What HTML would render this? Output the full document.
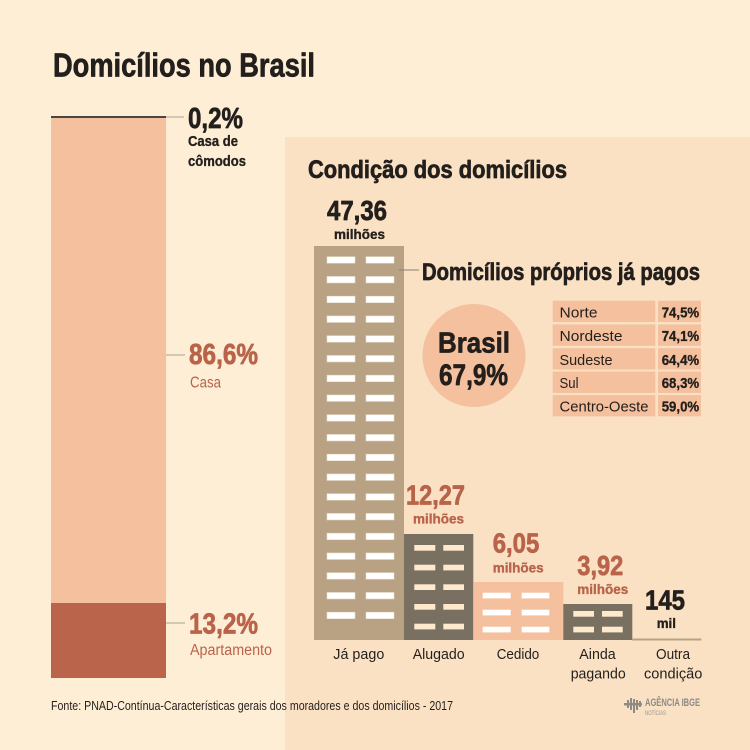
<!DOCTYPE html>
<html><head><meta charset="utf-8"><style>
html,body{margin:0;padding:0;background:#feeed6;}
svg{display:block;}
text{font-family:"Liberation Sans",Arial,sans-serif;}
.b{font-weight:bold;}
.h{stroke-width:0.7;stroke-linejoin:round;}
.m{stroke-width:0.35;stroke-linejoin:round;}
</style></head><body>
<svg width="750" height="750" viewBox="0 0 750 750" xmlns="http://www.w3.org/2000/svg">
<rect x="0" y="0" width="750" height="750" fill="#feeed6"/>
<rect x="285" y="137" width="465" height="613" fill="#fae1c4"/>

<!-- Title -->
<text x="53" y="76.5" font-size="33" class="b h" fill="#231f1c" stroke="#231f1c" textLength="262" lengthAdjust="spacingAndGlyphs">Domicílios no Brasil</text>

<!-- Left stacked bar -->
<rect x="51" y="117" width="115" height="486" fill="#f4c09e"/>
<rect x="51" y="603" width="115" height="75" fill="#b9644b"/>
<rect x="51" y="116" width="115" height="2" fill="#4a4540"/>
<line x1="166" y1="117" x2="184" y2="117" stroke="#c3b9aa" stroke-width="1.5"/>
<line x1="166" y1="355" x2="185" y2="355" stroke="#c3b9aa" stroke-width="1.5"/>
<line x1="166" y1="623" x2="185" y2="623" stroke="#c3b9aa" stroke-width="1.5"/>

<text x="188" y="128" font-size="29" class="b h" fill="#231f1c" stroke="#231f1c" textLength="55" lengthAdjust="spacingAndGlyphs">0,2%</text>
<text x="188" y="146" font-size="15" class="b m" fill="#231f1c" stroke="#231f1c" textLength="50" lengthAdjust="spacingAndGlyphs">Casa de</text>
<text x="188" y="166" font-size="15" class="b m" fill="#231f1c" stroke="#231f1c" textLength="58" lengthAdjust="spacingAndGlyphs">cômodos</text>

<text x="189" y="364" font-size="29" class="b h" fill="#b9634a" stroke="#b9634a" textLength="69" lengthAdjust="spacingAndGlyphs">86,6%</text>
<text x="190" y="387.7" font-size="15.5" fill="#b9634a" textLength="31" lengthAdjust="spacingAndGlyphs">Casa</text>

<text x="189" y="633.3" font-size="29" class="b h" fill="#b9634a" stroke="#b9634a" textLength="69" lengthAdjust="spacingAndGlyphs">13,2%</text>
<text x="190" y="655" font-size="15.5" fill="#b9634a" textLength="82" lengthAdjust="spacingAndGlyphs">Apartamento</text>

<!-- Fonte -->
<text x="51" y="710" font-size="13" fill="#231f1c" textLength="402" lengthAdjust="spacingAndGlyphs">Fonte: PNAD-Contínua-Características gerais dos moradores e dos domicílios - 2017</text>

<!-- Right panel title -->
<text x="308" y="178" font-size="25" class="b h" fill="#231f1c" stroke="#231f1c" textLength="259" lengthAdjust="spacingAndGlyphs">Condição dos domicílios</text>

<!-- Building 1 -->
<rect x="314" y="246" width="90" height="394" fill="#b8a283"/>
<g fill="#ffffff" stroke="#e6dccb" stroke-width="0.6">
<rect x="327" y="256.7" width="28" height="6.5"/><rect x="366" y="256.7" width="28" height="6.5"/>
<rect x="327" y="276.45" width="28" height="6.5"/><rect x="366" y="276.45" width="28" height="6.5"/>
<rect x="327" y="296.2" width="28" height="6.5"/><rect x="366" y="296.2" width="28" height="6.5"/>
<rect x="327" y="315.95" width="28" height="6.5"/><rect x="366" y="315.95" width="28" height="6.5"/>
<rect x="327" y="335.7" width="28" height="6.5"/><rect x="366" y="335.7" width="28" height="6.5"/>
<rect x="327" y="355.45" width="28" height="6.5"/><rect x="366" y="355.45" width="28" height="6.5"/>
<rect x="327" y="375.2" width="28" height="6.5"/><rect x="366" y="375.2" width="28" height="6.5"/>
<rect x="327" y="394.95" width="28" height="6.5"/><rect x="366" y="394.95" width="28" height="6.5"/>
<rect x="327" y="414.7" width="28" height="6.5"/><rect x="366" y="414.7" width="28" height="6.5"/>
<rect x="327" y="434.45" width="28" height="6.5"/><rect x="366" y="434.45" width="28" height="6.5"/>
<rect x="327" y="454.2" width="28" height="6.5"/><rect x="366" y="454.2" width="28" height="6.5"/>
<rect x="327" y="473.95" width="28" height="6.5"/><rect x="366" y="473.95" width="28" height="6.5"/>
<rect x="327" y="493.7" width="28" height="6.5"/><rect x="366" y="493.7" width="28" height="6.5"/>
<rect x="327" y="513.45" width="28" height="6.5"/><rect x="366" y="513.45" width="28" height="6.5"/>
<rect x="327" y="533.2" width="28" height="6.5"/><rect x="366" y="533.2" width="28" height="6.5"/>
<rect x="327" y="552.95" width="28" height="6.5"/><rect x="366" y="552.95" width="28" height="6.5"/>
<rect x="327" y="572.7" width="28" height="6.5"/><rect x="366" y="572.7" width="28" height="6.5"/>
<rect x="327" y="592.45" width="28" height="6.5"/><rect x="366" y="592.45" width="28" height="6.5"/>
<rect x="327" y="612.2" width="28" height="6.5"/><rect x="366" y="612.2" width="28" height="6.5"/>
</g>
<line x1="399" y1="270" x2="419" y2="270" stroke="#8a8070" stroke-width="1"/>
<text x="422" y="280" font-size="24" class="b h" fill="#231f1c" stroke="#231f1c" textLength="278" lengthAdjust="spacingAndGlyphs">Domicílios próprios já pagos</text>
<text x="327" y="220" font-size="28" class="b h" fill="#231f1c" stroke="#231f1c" textLength="60" lengthAdjust="spacingAndGlyphs">47,36</text>
<text x="334" y="239" font-size="14" class="b m" fill="#231f1c" stroke="#231f1c" textLength="51" lengthAdjust="spacingAndGlyphs">milhões</text>

<!-- Circle -->
<circle cx="474" cy="355.5" r="51.5" fill="#f4c09e"/>
<text x="438" y="352.7" font-size="29" class="b h" fill="#231f1c" stroke="#231f1c" textLength="72" lengthAdjust="spacingAndGlyphs">Brasil</text>
<text x="439" y="385" font-size="30" class="b h" fill="#231f1c" stroke="#231f1c" textLength="69" lengthAdjust="spacingAndGlyphs">67,9%</text>

<!-- Table -->
<g fill="#f4c09e">
<rect x="552.7" y="300.7" width="102.6" height="21.3"/><rect x="658" y="300.7" width="43" height="21.3"/>
<rect x="552.7" y="324.5" width="102.6" height="21.3"/><rect x="658" y="324.5" width="43" height="21.3"/>
<rect x="552.7" y="348.2" width="102.6" height="21.3"/><rect x="658" y="348.2" width="43" height="21.3"/>
<rect x="552.7" y="371.6" width="102.6" height="21.3"/><rect x="658" y="371.6" width="43" height="21.3"/>
<rect x="552.7" y="395" width="102.6" height="21.3"/><rect x="658" y="395" width="43" height="21.3"/>
</g>
<g font-size="15" fill="#231f1c">
<text x="559.5" y="317.3" textLength="38" lengthAdjust="spacingAndGlyphs">Norte</text>
<text x="559.5" y="341.1" textLength="63" lengthAdjust="spacingAndGlyphs">Nordeste</text>
<text x="559.5" y="364.8" textLength="53" lengthAdjust="spacingAndGlyphs">Sudeste</text>
<text x="559.5" y="388.2" textLength="19" lengthAdjust="spacingAndGlyphs">Sul</text>
<text x="559.5" y="411.6" textLength="89" lengthAdjust="spacingAndGlyphs">Centro-Oeste</text>
</g>
<g font-size="14.5" fill="#231f1c" font-weight="bold" stroke="#231f1c" stroke-width="0.3">
<text x="661.7" y="317.3" textLength="37.5" lengthAdjust="spacingAndGlyphs">74,5%</text>
<text x="661.7" y="341.1" textLength="37.5" lengthAdjust="spacingAndGlyphs">74,1%</text>
<text x="661.7" y="364.8" textLength="37.5" lengthAdjust="spacingAndGlyphs">64,4%</text>
<text x="661.7" y="388.2" textLength="37.5" lengthAdjust="spacingAndGlyphs">68,3%</text>
<text x="661.7" y="411.6" textLength="37.5" lengthAdjust="spacingAndGlyphs">59,0%</text>
</g>

<!-- Building 2 Alugado -->
<rect x="404" y="534" width="69.3" height="106" fill="#7a7061"/>
<g fill="#fde9cc">
<rect x="414.3" y="545" width="21" height="5.7"/><rect x="443.3" y="545" width="20.7" height="5.7"/>
<rect x="414.3" y="564.7" width="21" height="5.7"/><rect x="443.3" y="564.7" width="20.7" height="5.7"/>
<rect x="414.3" y="584.3" width="21" height="5.7"/><rect x="443.3" y="584.3" width="20.7" height="5.7"/>
<rect x="414.3" y="604" width="21" height="5.7"/><rect x="443.3" y="604" width="20.7" height="5.7"/>
<rect x="414.3" y="623.7" width="21" height="5.7"/><rect x="443.3" y="623.7" width="20.7" height="5.7"/>
</g>
<text x="406" y="504.3" font-size="28" class="b h" fill="#b9634a" stroke="#b9634a" textLength="59" lengthAdjust="spacingAndGlyphs">12,27</text>
<text x="413" y="523.3" font-size="14" class="b m" fill="#b9634a" stroke="#b9634a" textLength="51" lengthAdjust="spacingAndGlyphs">milhões</text>

<!-- Building 3 Cedido -->
<rect x="473.3" y="582" width="90" height="58" fill="#f4c09e"/>
<g fill="#ffffff">
<rect x="482.7" y="592.7" width="28" height="5.7"/><rect x="521.7" y="592.7" width="27.6" height="5.7"/>
<rect x="482.7" y="609.7" width="28" height="5.7"/><rect x="521.7" y="609.7" width="27.6" height="5.7"/>
<rect x="482.7" y="626.7" width="28" height="5.7"/><rect x="521.7" y="626.7" width="27.6" height="5.7"/>
</g>
<text x="492.7" y="552.7" font-size="28" class="b h" fill="#b9634a" stroke="#b9634a" textLength="46.6" lengthAdjust="spacingAndGlyphs">6,05</text>
<text x="492.7" y="572.7" font-size="14" class="b m" fill="#b9634a" stroke="#b9634a" textLength="51" lengthAdjust="spacingAndGlyphs">milhões</text>

<!-- Building 4 Ainda pagando -->
<rect x="563.3" y="604" width="69" height="36" fill="#7a7061"/>
<g fill="#fde9cc">
<rect x="573.3" y="611" width="20.7" height="5.7"/><rect x="602" y="611" width="20.7" height="5.7"/>
<rect x="573.3" y="626.7" width="20.7" height="5.7"/><rect x="602" y="626.7" width="20.7" height="5.7"/>
</g>
<text x="577.3" y="575" font-size="28" class="b h" fill="#b9634a" stroke="#b9634a" textLength="46" lengthAdjust="spacingAndGlyphs">3,92</text>
<text x="577.3" y="594" font-size="14" class="b m" fill="#b9634a" stroke="#b9634a" textLength="51" lengthAdjust="spacingAndGlyphs">milhões</text>

<!-- Outra -->
<rect x="632.3" y="638.5" width="69" height="2" fill="#b8a283"/>
<text x="645" y="609.3" font-size="28" class="b h" fill="#231f1c" stroke="#231f1c" textLength="40" lengthAdjust="spacingAndGlyphs">145</text>
<text x="656.7" y="628" font-size="14" class="b m" fill="#231f1c" stroke="#231f1c" textLength="19.3" lengthAdjust="spacingAndGlyphs">mil</text>

<!-- X labels -->
<g font-size="15" fill="#231f1c">
<text x="333.3" y="659" textLength="51" lengthAdjust="spacingAndGlyphs">Já pago</text>
<text x="412.7" y="659" textLength="52" lengthAdjust="spacingAndGlyphs">Alugado</text>
<text x="496.7" y="659" textLength="42.6" lengthAdjust="spacingAndGlyphs">Cedido</text>
<text x="579.3" y="659" textLength="36.4" lengthAdjust="spacingAndGlyphs">Ainda</text>
<text x="570.7" y="678.3" textLength="55" lengthAdjust="spacingAndGlyphs">pagando</text>
<text x="656" y="659" textLength="34" lengthAdjust="spacingAndGlyphs">Outra</text>
<text x="644" y="678.3" textLength="58.3" lengthAdjust="spacingAndGlyphs">condição</text>
</g>

<!-- Logo -->
<g fill="#8e8a84">
<rect x="624" y="703" width="18" height="2.5"/>
<rect x="627" y="700" width="2" height="8"/>
<rect x="630" y="698" width="2" height="12"/>
<rect x="633" y="699" width="2" height="14"/>
<rect x="636" y="700" width="2" height="10"/>
<rect x="639" y="701" width="2" height="6"/>
</g>
<text x="645" y="706" font-size="11" font-weight="bold" fill="#8e8a84" textLength="55" lengthAdjust="spacingAndGlyphs">AGÊNCIA IBGE</text>
<text x="645" y="715" font-size="6.5" fill="#9a958e" textLength="21" lengthAdjust="spacingAndGlyphs">NOTÍCIAS</text>
</svg>
</body></html>
